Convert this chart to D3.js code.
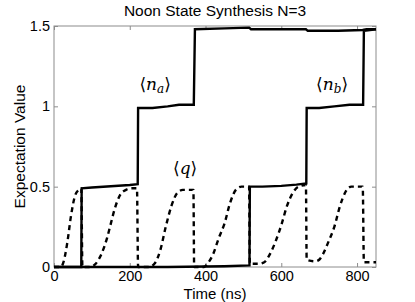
<!DOCTYPE html>
<html>
<head>
<meta charset="utf-8">
<script src="https://cdn.jsdelivr.net/npm/d3@7"></script>
<style>
  body { margin: 0; background: #fff; }
  text { font-family: "Liberation Sans", Arial, sans-serif; fill: #000; }
</style>
</head>
<body>
<div id="vis"></div>
<script>
// x ticks and y ticks
var xTicks = [0, 200, 400, 600, 800];
var yTicks = [0, 0.5, 1, 1.5];
var yTickLabels = ['0', '0.5', '1', '1.5'];

// <n_a> : [time (ns), value]
var naValues = [
  [0, 0], [72, 0], [73, 0.49], [100, 0.495], [150, 0.503], [200, 0.51], [221, 0.515],
  [222, 0.99], [260, 0.99], [300, 1.0], [330, 1.01], [369, 1.01],
  [372, 1.48], [450, 1.485], [515, 1.49], [520, 1.48], [600, 1.48], [665, 1.48],
  [670, 1.47], [750, 1.47], [815, 1.475], [825, 1.48], [850, 1.48]
];

// <n_b>
var nbValues = [
  [0, 0], [300, 0], [450, 0.005], [516, 0.01], [517, 0.5], [550, 0.5],
  [600, 0.505], [640, 0.513], [666, 0.52], [667, 0.99], [700, 0.99],
  [740, 1.0], [780, 1.01], [816, 1.01], [818, 1.47], [850, 1.48]
];

// <q>
var qValues = [
  [0, 0], [18, 0], [25, 0.03], [35, 0.15], [45, 0.32], [55, 0.44], [65, 0.48], [72, 0.49],
  [75, 0], [95, 0], [110, 0.02], [125, 0.08], [140, 0.18], [150, 0.27], [160, 0.36],
  [175, 0.45], [190, 0.48], [205, 0.49], [219, 0.49], [222, 0],
  [250, 0], [265, 0.02], [280, 0.1], [295, 0.25], [310, 0.38], [325, 0.46], [340, 0.48],
  [368, 0.48], [370, 0], [395, 0], [405, 0.02], [420, 0.08], [435, 0.18], [450, 0.27],
  [465, 0.4], [480, 0.48], [495, 0.5], [515, 0.5], [517, 0.02],
  [540, 0.02], [555, 0.03], [570, 0.08], [585, 0.16], [600, 0.26], [615, 0.38],
  [630, 0.46], [645, 0.5], [665, 0.51], [667, 0.045],
  [690, 0.035], [700, 0.045], [710, 0.08], [725, 0.16], [740, 0.25], [755, 0.38],
  [770, 0.47], [785, 0.5], [815, 0.5], [818, 0.03], [850, 0.03]
];

var width = 415;
var height = 302;
var margin = { top: 26, left: 54, bottom: 35, right: 39 };
var w = width - margin.left - margin.right;
var h = height - margin.top - margin.bottom;

var svg = d3.select('#vis').append('svg')
  .attr('width', width)
  .attr('height', height);

var g = svg.append('g')
  .attr('transform', 'translate(' + margin.left + ',' + margin.top + ')');

var x = d3.scaleLinear().domain([0, 850]).range([0, w]);
var y = d3.scaleLinear().domain([0, 1.5]).range([h, 0]);

// box and inward ticks on all sides
var axisColor = '#8c8c8c';
g.append('rect')
  .attr('width', w).attr('height', h)
  .attr('fill', 'none').attr('stroke', axisColor).attr('stroke-width', 1);

var tl = 4;
var xb = g.append('g').attr('transform', 'translate(0,' + h + ')')
  .call(d3.axisBottom(x).tickValues(xTicks).tickSizeInner(-tl).tickSizeOuter(0).tickPadding(4));
var xt = g.append('g')
  .call(d3.axisTop(x).tickValues(xTicks).tickSizeInner(-tl).tickSizeOuter(0).tickFormat(''));
var yl = g.append('g')
  .call(d3.axisLeft(y).tickValues(yTicks).tickSizeInner(-tl).tickSizeOuter(0).tickPadding(4)
    .tickFormat(function (d, i) { return yTickLabels[i]; }));
var yr = g.append('g').attr('transform', 'translate(' + w + ',0)')
  .call(d3.axisRight(y).tickValues(yTicks).tickSizeInner(-tl).tickSizeOuter(0).tickFormat(''));

[xb, xt, yl, yr].forEach(function (a) {
  a.select('.domain').remove();
  a.selectAll('line').attr('stroke', axisColor);
  a.selectAll('text').attr('fill', '#000').style('font-size', '14.5px')
    .style('font-family', '"Liberation Sans", Arial, sans-serif');
});
xb.selectAll('text').attr('dy', '0.72em');

var line = d3.line()
  .x(function (d) { return x(d[0]); })
  .y(function (d) { return y(d[1]); })
  .curve(d3.curveMonotoneX);

var plot = g.append('g');

plot.append('path').datum(qValues)
  .attr('d', line)
  .attr('fill', 'none').attr('stroke', '#000')
  .attr('stroke-width', 2.4).attr('stroke-dasharray', '5,4');

plot.append('path').datum(nbValues)
  .attr('d', line.curve(d3.curveLinear))
  .attr('fill', 'none').attr('stroke', '#000').attr('stroke-width', 2.4);

plot.append('path').datum(naValues)
  .attr('d', line.curve(d3.curveLinear))
  .attr('fill', 'none').attr('stroke', '#000').attr('stroke-width', 2.4);

// series labels
function bracketLabel(cx, cy, main, sub) {
  var t = g.append('text')
    .attr('x', cx).attr('y', cy)
    .attr('text-anchor', 'middle')
    .style('font-family', '"DejaVu Serif", "Liberation Serif", serif')
    .style('font-size', '17px');
  t.append('tspan').text('\u27E8');
  t.append('tspan').style('font-style', 'italic').text(main);
  if (sub) {
    t.append('tspan').attr('dy', 3).style('font-size', '12px').style('font-style', 'italic').text(sub);
    t.append('tspan').attr('dy', -3).text('\u27E9');
  } else {
    t.append('tspan').text('\u27E9');
  }
}
bracketLabel(x(267), y(1.1), 'n', 'a');
bracketLabel(x(734), y(1.1), 'n', 'b');
bracketLabel(x(346), y(0.58), 'q', null);

// title and axis labels
svg.append('text')
  .attr('x', margin.left + w / 2).attr('y', 16)
  .attr('text-anchor', 'middle').style('font-size', '15.5px')
  .text('Noon State Synthesis N=3');

svg.append('text')
  .attr('x', margin.left + w / 2).attr('y', 298.5)
  .attr('text-anchor', 'middle').style('font-size', '15px')
  .text('Time (ns)');

svg.append('text')
  .attr('transform', 'translate(25,' + (margin.top + h / 2) + ') rotate(-90)')
  .attr('text-anchor', 'middle').style('font-size', '15.5px')
  .text('Expectation Value');
</script>
</body>
</html>
